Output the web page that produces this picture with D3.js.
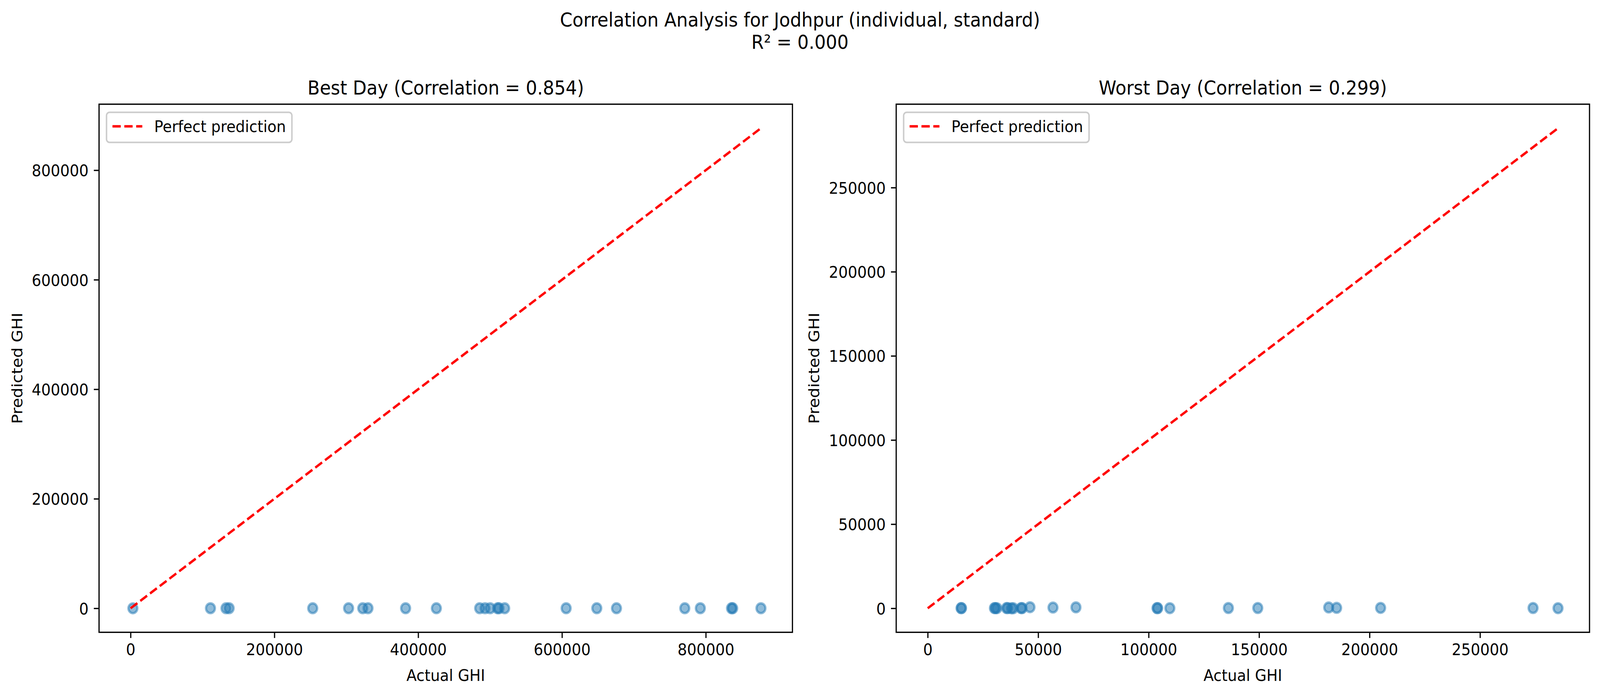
<!DOCTYPE html>
<html>
<head>
<meta charset="utf-8">
<script src="https://cdn.jsdelivr.net/npm/d3@7"></script>
<style>
  html, body { margin: 0; padding: 0; background: #ffffff; width: 100%; height: 100%; overflow: hidden; }
  svg { display: block; width: 100vw; height: 100vh; font-family: "DejaVu Sans", sans-serif; }
</style>
</head>
<body>
<script>
// ---------- data ----------
const suptitleLines = ["Correlation Analysis for Jodhpur (individual, standard)", "R² = 0.000"];

const bestTitle = "Best Day (Correlation = 0.854)";
const bestActual = [3200, 111100, 132700, 137100, 253300, 303200, 322900, 330200, 382500, 425300,
                    485500, 493000, 500100, 510400, 512400, 520300, 605800, 648400, 675800,
                    770800, 792400, 835800, 837400, 876700];
const bestPredicted = [0, 120, 80, 150, 90, 110, 60, 130, 100, 70,
                       140, 90, 120, 60, 100, 80, 110, 130, 90,
                       70, 120, 100, 80, 110];
const bestTicks = [0, 200000, 400000, 600000, 800000];

const worstTitle = "Worst Day (Correlation = 0.299)";
const worstActual = [15100, 15300, 30200, 30600, 31300, 35700, 36200, 37900, 38700, 42300,
                     42700, 46300, 56700, 67100, 103800, 104100, 109600, 136100, 149400,
                     181500, 185100, 205000, 274000, 285300];
const worstPredicted = [80, 120, 90, 110, 60, 130, 100, 0, 40, 120,
                        90, 650, 420, 560, 110, 80, 70, 150, 160,
                        480, 260, 230, 160, 60];
const worstTicks = [0, 50000, 100000, 150000, 200000, 250000];

const xLabel = "Actual GHI";
const yLabel = "Predicted GHI";
const legendLabel = "Perfect prediction";

// ---------- layout ----------
const W = 4471, H = 1779;
const PT = 300 / 72;                 // px per point at 300 dpi
const FS = 10 * PT;                  // 41.67 px
const TITLE_FS = 12 * PT;            // 50 px
const axTop = 266.7, axBottom = 1618.5;
const panels = [
  { left: 276.8, right: 2214.4, title: bestTitle, actual: bestActual, predicted: bestPredicted, ticks: bestTicks },
  { left: 2504.3, right: 4441.7, title: worstTitle, actual: worstActual, predicted: worstPredicted, ticks: worstTicks }
];

const svg = d3.select("body").append("svg")
  .attr("viewBox", `0 0 ${W} ${H}`)
  .attr("preserveAspectRatio", "none");
svg.append("rect").attr("width", W).attr("height", H).attr("fill", "#ffffff");

// suptitle
svg.append("text").attr("x", W / 2).attr("y", 68)
  .attr("text-anchor", "middle").attr("font-size", TITLE_FS).attr("fill", "#000")
  .text(suptitleLines[0]);
svg.append("text").attr("x", W / 2).attr("y", 125)
  .attr("text-anchor", "middle").attr("font-size", TITLE_FS).attr("fill", "#000")
  .text(suptitleLines[1]);

const blue = "#1f77b4";
const tickLen = 3.5 * PT, tickPad = 3.5 * PT, lw = 0.8 * PT;

panels.forEach(p => {
  const all = p.actual.concat(p.predicted);
  const lo = d3.min(all), hi = d3.max(all);
  const pad = 0.05 * (hi - lo);
  const x = d3.scaleLinear().domain([lo - pad, hi + pad]).range([p.left, p.right]);
  const y = d3.scaleLinear().domain([lo - pad, hi + pad]).range([axBottom, axTop]);

  const g = svg.append("g");

  // points
  const pts = p.actual.map((a, i) => ({ a, b: p.predicted[i] }));
  g.append("g").selectAll("circle").data(pts).join("circle")
    .attr("cx", d => x(d.a)).attr("cy", d => y(d.b))
    .attr("r", 3 * PT)
    .attr("fill", blue).attr("fill-opacity", 0.5)
    .attr("stroke", blue).attr("stroke-opacity", 0.5)
    .attr("stroke-width", 1.5 * PT);

  // perfect prediction line
  g.append("line")
    .attr("x1", x(lo)).attr("y1", y(lo))
    .attr("x2", x(hi)).attr("y2", y(hi))
    .attr("stroke", "#ff0000").attr("stroke-width", 1.5 * PT)
    .attr("stroke-dasharray", `${3.7 * 1.5 * PT},${1.6 * 1.5 * PT}`);

  // axes
  const fmt = d3.format("d");
  const xAxis = g.append("g").attr("transform", `translate(0,${axBottom})`)
    .call(d3.axisBottom(x).tickValues(p.ticks).tickFormat(fmt)
      .tickSizeInner(tickLen).tickSizeOuter(0).tickPadding(tickPad));
  const yAxis = g.append("g").attr("transform", `translate(${p.left},0)`)
    .call(d3.axisLeft(y).tickValues(p.ticks).tickFormat(fmt)
      .tickSizeInner(tickLen).tickSizeOuter(0).tickPadding(tickPad));
  [xAxis, yAxis].forEach(ax => {
    ax.select(".domain").remove();
    ax.selectAll(".tick line").attr("stroke", "#000").attr("stroke-width", lw);
    ax.selectAll(".tick text").attr("font-size", FS).attr("fill", "#000")
      .attr("font-family", "DejaVu Sans, sans-serif");
  });
  yAxis.selectAll(".tick text").attr("dy", "0.36em");

  // spines
  g.append("rect")
    .attr("x", p.left).attr("y", axTop)
    .attr("width", p.right - p.left).attr("height", axBottom - axTop)
    .attr("fill", "none").attr("stroke", "#000").attr("stroke-width", lw);

  // title
  g.append("text").attr("x", (p.left + p.right) / 2).attr("y", axTop - 6 * PT)
    .attr("text-anchor", "middle").attr("font-size", TITLE_FS).attr("fill", "#000")
    .text(p.title);

  // axis labels
  g.append("text").attr("x", (p.left + p.right) / 2).attr("y", 1743)
    .attr("text-anchor", "middle").attr("font-size", FS).attr("fill", "#000")
    .text(xLabel);
  const ylx = p.left - 214.8, yly = (axTop + axBottom) / 2;
  g.append("text")
    .attr("transform", `translate(${ylx},${yly}) rotate(-90)`)
    .attr("text-anchor", "middle").attr("font-size", FS).attr("fill", "#000")
    .text(yLabel);

  // legend
  const lgx = p.left + 0.5 * FS, lgy = axTop + 0.5 * FS;
  const lg = g.append("g");
  const box = lg.append("rect");
  const lineY = lgy + 0.4 * FS + 0.45 * FS + 0.5;
  const hx1 = lgx + 0.4 * FS, hx2 = hx1 + 2.0 * FS;
  lg.append("line").attr("x1", hx1).attr("x2", hx2).attr("y1", lineY).attr("y2", lineY)
    .attr("stroke", "#ff0000").attr("stroke-width", 1.5 * PT)
    .attr("stroke-dasharray", `${3.7 * 1.5 * PT},${1.6 * 1.5 * PT}`);
  const lt = lg.append("text").attr("x", hx2 + 0.8 * FS).attr("y", lineY + 0.36 * FS)
    .attr("font-size", FS).attr("fill", "#000").text(legendLabel);
  const tw = lt.node().getComputedTextLength();
  box.attr("x", lgx).attr("y", lgy)
    .attr("width", (hx2 + 0.8 * FS + tw + 0.4 * FS) - lgx)
    .attr("height", 77)
    .attr("rx", 0.2 * FS).attr("ry", 0.2 * FS)
    .attr("fill", "#ffffff").attr("fill-opacity", 0.8)
    .attr("stroke", "#cccccc").attr("stroke-width", 1.0 * PT);
});
</script>
</body>
</html>
